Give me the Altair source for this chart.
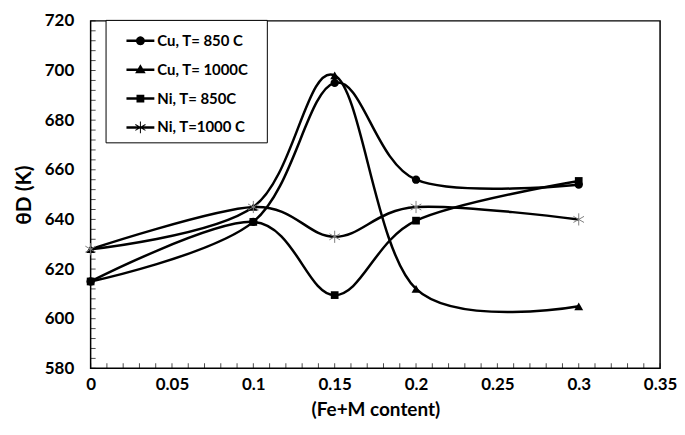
import math
import altair as alt
import pandas as pd

# ---- data ----
x_vals = [0, 0.1, 0.15, 0.2, 0.3]
cu_850 = [615, 639, 695, 656, 654]
cu_1000 = [628, 645, 698, 612, 605]
ni_850 = [615, 639, 609.5, 639.5, 655.5]
ni_1000 = [628, 645, 633, 645, 640]
series_names = ["Cu, T= 850 C", "Cu, T= 1000C", "Ni, T= 850C", "Ni, T=1000 C"]
x_label_ticks = [0, 0.05, 0.1, 0.15, 0.2, 0.25, 0.3, 0.35]
y_label_ticks = [580, 600, 620, 640, 660, 680, 700, 720]

x_minor = [round(i * 0.01, 2) for i in range(36)]
y_minor = list(range(580, 721, 4))

rows = []
for name, vals in zip(series_names, [cu_850, cu_1000, ni_850, ni_1000]):
    for xv, yv in zip(x_vals, vals):
        rows.append({"series": name, "x": xv, "y": yv})
df = pd.DataFrame(rows)
xt_df = pd.DataFrame({"x": x_minor})
yt_df = pd.DataFrame({"y": y_minor})

FONT = "Lato"
W, H = 572, 349

# ---- legend symbol paths (line + marker) ----
def poly(pts):
    return "M" + "L".join(f"{a:.3f},{b:.3f}" for a, b in pts) + "Z"

t = 0.09
line_rect = poly([(-1, -t), (1, -t), (1, t), (-1, t)])
circ = poly([(0.32 * math.cos(2 * math.pi * k / 24), 0.32 * math.sin(2 * math.pi * k / 24)) for k in range(24)])
tri = poly([(0, -0.38), (0.38, 0.26), (-0.38, 0.26)])
sq = poly([(-0.28, -0.28), (0.28, -0.28), (0.28, 0.28), (-0.28, 0.28)])

def arm(theta, L=0.42, w=0.035):
    dx, dy = math.cos(theta), math.sin(theta)
    nx, ny = -dy, dx
    return poly([(-L * dx - w * nx, -L * dy - w * ny), (L * dx - w * nx, L * dy - w * ny),
                 (L * dx + w * nx, L * dy + w * ny), (-L * dx + w * nx, -L * dy + w * ny)])

star = "".join(arm(a) for a in [math.pi / 2, math.pi / 6, 5 * math.pi / 6])
legend_paths = [line_rect + circ, line_rect + tri, line_rect + sq, line_rect + star]

asterisk_path = "M0,-1L0,1M-0.87,-0.5L0.87,0.5M-0.87,0.5L0.87,-0.5"

xscale = alt.Scale(domain=[0, 0.35], nice=False, zero=False)
yscale = alt.Scale(domain=[580, 720], nice=False, zero=False)

main_x_axis = alt.Axis(values=x_label_ticks, format="~g", ticks=False, domain=False, grid=False,
                       labelPadding=8, labelFlush=False, labelOverlap=False,
                       title="(Fe+M content)", titlePadding=8)
main_y_axis = alt.Axis(values=y_label_ticks, ticks=False, domain=False, grid=False,
                       labelPadding=17, labelOverlap=False, labelFlush=False,
                       title="θD (K)", titlePadding=10, titleFontSize=21)

def X(field="x"):
    return alt.X(f"{field}:Q", scale=xscale, axis=main_x_axis)

def Y(field="y"):
    return alt.Y(f"{field}:Q", scale=yscale, axis=main_y_axis)

base = alt.Chart(df)

lines = base.mark_line(interpolate="cardinal", color="black", strokeWidth=2.5).encode(
    x=X(), y=Y(), detail="series:N",
)

# inside tick marks along the bottom and left edges
x_ticks = alt.Chart(xt_df).mark_tick(color="black", thickness=1, size=5, orient="vertical").encode(
    x=X(), y=alt.value(H - 2.5),
)
y_ticks = alt.Chart(yt_df).mark_tick(color="black", thickness=1, size=5, orient="horizontal").encode(
    y=Y(), x=alt.value(2.5),
)

marker_specs = [
    (series_names[0], dict(shape="circle", filled=True, color="black", size=70, opacity=1)),
    (series_names[1], dict(shape="triangle-up", filled=True, color="black", size=80, opacity=1)),
    (series_names[2], dict(shape="square", filled=True, color="black", size=60, opacity=1)),
    (series_names[3], dict(shape=asterisk_path, filled=False, color="#7f7f7f", size=150, strokeWidth=1, opacity=1)),
]

point_layers = []
for name, props in marker_specs:
    point_layers.append(
        base.transform_filter(alt.datum.series == name).mark_point(**props).encode(x=X(), y=Y())
    )

legend_layer = base.transform_filter(alt.datum.x < -1).mark_point(filled=True, color="black", opacity=1).encode(
    x=X(), y=Y(),
    shape=alt.Shape("series:N", scale=alt.Scale(domain=series_names, range=legend_paths), sort=None,
                    legend=alt.Legend(title="\u00a0", titleOrient="right", titlePadding=12,
                                      titleFontSize=20, titleColor="white",
                                      orient="none", legendX=15, legendY=-1,
                                      strokeColor="black", fillColor="white", padding=7,
                                      symbolSize=784, symbolStrokeWidth=0, symbolOffset=14,
                                      rowPadding=7, labelOffset=3,
                                      labelFont=FONT, labelFontSize=15, labelFontWeight="bold",
                                      labelColor="black", labelLimit=300)),
)

chart = alt.layer(lines, x_ticks, y_ticks, *point_layers, legend_layer).properties(
    width=W, height=H, padding={"left": 5, "top": 3, "right": 0, "bottom": 5}
).configure_view(
    stroke="black", strokeWidth=1.5
).configure_axis(
    labelFont=FONT, labelFontSize=17, labelFontWeight="bold", labelColor="black",
    titleFont=FONT, titleFontSize=19, titleFontWeight="bold", titleColor="black",
)

chart.save("out.html", embed_options={"renderer": "svg", "actions": False})
